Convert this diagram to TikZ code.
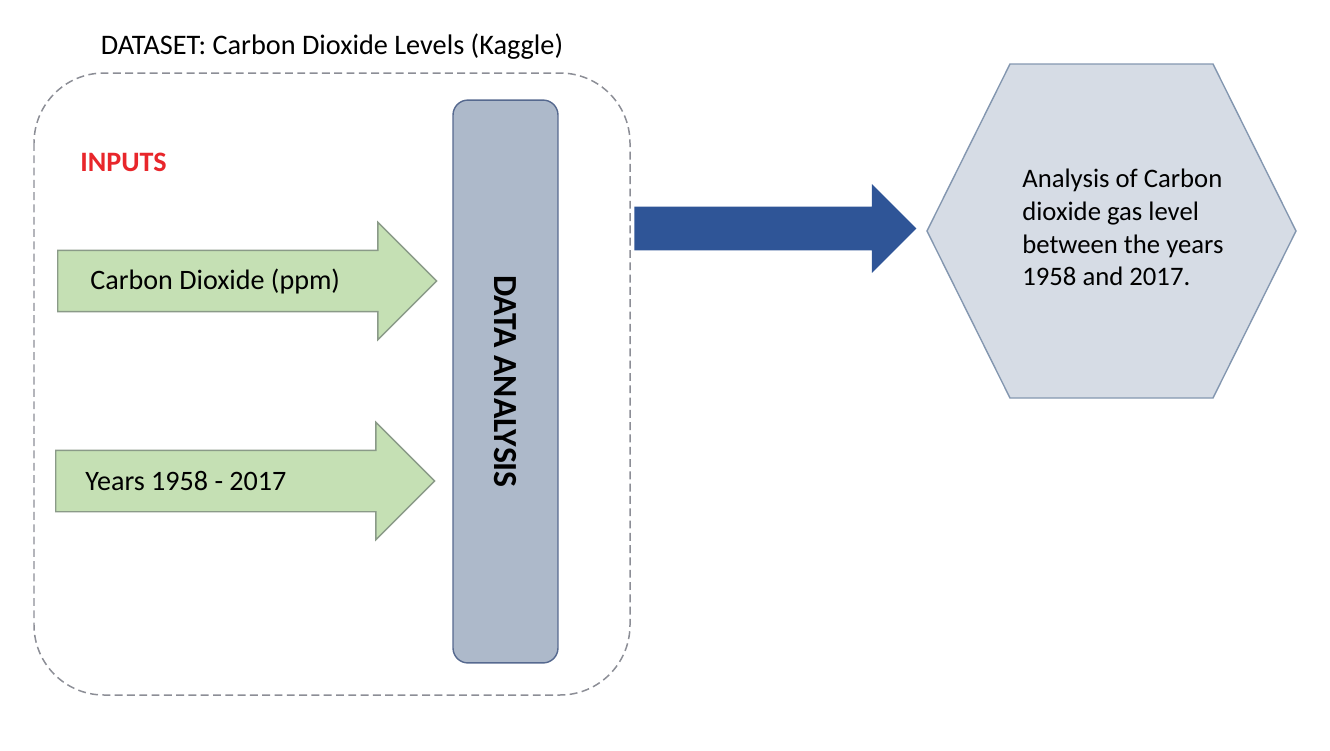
\documentclass[tikz,border=0pt]{standalone}
\usepackage{fontspec}
\setmainfont{Carlito}
\usetikzlibrary{shapes.arrows,positioning}
\definecolor{ingreen}{HTML}{C5E0B4}
\definecolor{inedge}{HTML}{8A9A88}
\definecolor{dafill}{HTML}{ADB9CA}
\definecolor{daedge}{HTML}{56698F}
\definecolor{goblue}{HTML}{2F5597}
\definecolor{hexfill}{HTML}{D6DCE5}
\definecolor{hexedge}{HTML}{8497B0}
\definecolor{inred}{HTML}{E8262B}
\definecolor{boxgrey}{HTML}{8C8E96}

\begin{document}
\begin{tikzpicture}[x=0.02cm, y=-0.02cm,
  txt/.style={inner sep=0pt, font=\fontsize{16}{18.7}\selectfont},
  inarrow/.style={single arrow, draw=inedge, fill=ingreen, line width=0.8pt,
    inner xsep=0pt, inner ysep=0.6cm, minimum height=7.58cm, single arrow head extend=0.56cm,
    single arrow tip angle=90, anchor=tail},
  dabar/.style={draw=daedge, fill=dafill, line width=0.8pt, rounded corners=0.3cm, rotate=-90,
    minimum width=11.26cm, minimum height=2.1cm, font=\fontsize{19.2}{22}\selectfont\bfseries}]
  \useasboundingbox (0,0) rectangle (1330,751);

  \node[txt, font=\fontsize{16.1}{18.7}\selectfont] (ds) at (332,47) {DATASET: Carbon Dioxide Levels (Kaggle)};
  \draw[boxgrey, line width=0.85pt, dash pattern=on 4.5pt off 2.5pt, rounded corners=1.4cm]
    (34,73) rectangle (630,695);
  \node[txt, anchor=west, text=inred, font=\fontsize{16}{18.7}\selectfont\bfseries] (inp) at (80,162) {INPUTS};

  \node[inarrow] (in1) at (57,281) {};
  \node[inarrow] (in2) at (55,481) {};
  \node[txt, right=0.66cm of in1.tail] (co2) {Carbon Dioxide (ppm)};
  \node[txt, right=0.6cm of in2.tail] (yrs) {Years 1958 - 2017};

  \node[dabar] (da) at (505.5,381.5) {DATA ANALYSIS};

  \node[single arrow, fill=goblue, inner xsep=0pt, inner ysep=0.43cm, minimum height=5.64cm,
    single arrow head extend=0.45cm, single arrow tip angle=90, anchor=tail] (go) at (634,228.5) {};

  \draw[hexedge, fill=hexfill, line width=0.8pt]
    (927,231) -- (1010,64) -- (1213,64) -- (1296,231) -- (1213,398) -- (1010,398) -- cycle;
  \node[txt, anchor=west, align=left, font=\fontsize{15.2}{18.7}\selectfont] (res) at (1022,227.5)
    {Analysis of Carbon\\dioxide gas level\\between the years\\1958 and 2017.};
\end{tikzpicture}
\end{document}
